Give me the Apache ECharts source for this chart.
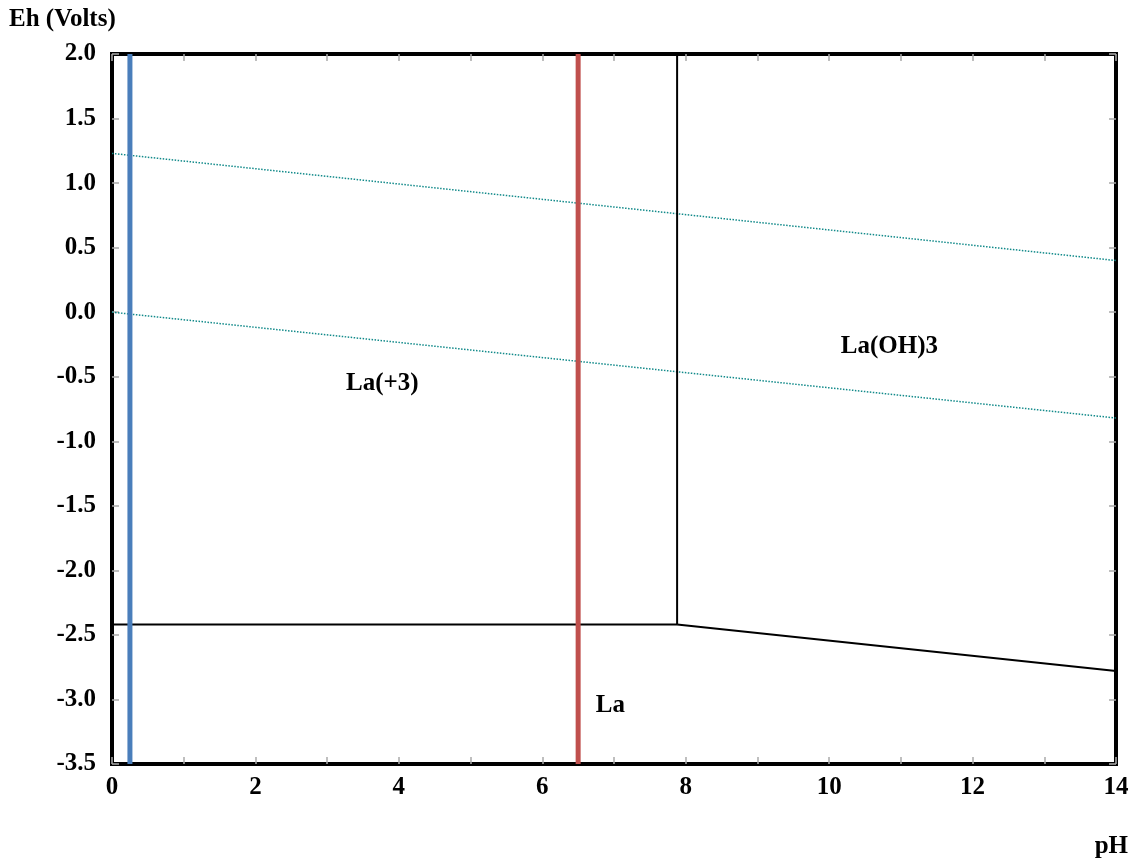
<!DOCTYPE html>
<html lang="en">
<head>
    <meta charset="UTF-8">
    <title>Eh-pH La</title>
    <script src="https://cdn.jsdelivr.net/npm/echarts@6/dist/echarts.min.js"></script>
    <style>
        html, body { margin: 0; padding: 0; background: #fff; }
        #chart { width: 1133px; height: 861px; }
    </style>
</head>
<body>
    <div id="chart"></div>
    <script>
        // 数据 (pH, Eh)
        const la3LaBoundary = [[0, -2.42], [7.88, -2.42]];
        const hydroxideLaBoundary = [[7.88, -2.42], [14, -2.78]];
        const la3HydroxideBoundary = [[7.88, -2.42], [7.88, 2.0]];
        const waterUpper = [[0, 1.23], [14, 0.40]];
        const waterLower = [[0, 0.0], [14, -0.82]];
        const bluePH = [[0.25, 2.0], [0.25, -3.5]];
        const redPH = [[6.5, 2.0], [6.5, -3.5]];
        const fieldLabels = [
            { name: 'La(+3)', value: [3.77, -0.55] },
            { name: 'La(OH)3', value: [10.84, -0.27] },
            { name: 'La', value: [6.95, -3.05] }
        ];

        const font = 'Liberation Serif';
        const fontSize = 25;

        function lineSeries(data, color, width, type) {
            return {
                type: 'line',
                data: data,
                symbol: 'none',
                silent: true,
                lineStyle: { color: color, width: width, type: type || 'solid' }
            };
        }

        const tickStyle = { show: true, inside: true, length: 7, lineStyle: { color: '#aaa', width: 1.5 } };
        const hiddenLine = { show: false, onZero: false };

        var mChart = echarts.init(document.getElementById('chart'));
        var option = {
            animation: false,
            grid: {
                left: 112, right: 17, top: 54, bottom: 97,
                show: true, borderColor: '#000', borderWidth: 4
            },
            xAxis: [{
                type: 'value', min: 0, max: 14, interval: 1,
                axisLine: hiddenLine,
                axisTick: tickStyle,
                splitLine: { show: false },
                axisLabel: {
                    margin: 11,
                    color: '#000', fontFamily: font, fontWeight: 'bold', fontSize: fontSize,
                    formatter: v => (v % 2 === 0 ? String(v) : '')
                }
            }, {
                type: 'value', min: 0, max: 14, interval: 1, position: 'top',
                axisLine: hiddenLine,
                axisTick: tickStyle,
                splitLine: { show: false },
                axisLabel: { show: false }
            }],
            yAxis: [{
                type: 'value', min: -3.5, max: 2.0, interval: 0.5,
                axisLine: hiddenLine,
                axisTick: tickStyle,
                splitLine: { show: false },
                axisLabel: {
                    margin: 16,
                    color: '#000', fontFamily: font, fontWeight: 'bold', fontSize: fontSize,
                    formatter: v => v.toFixed(1)
                }
            }, {
                type: 'value', min: -3.5, max: 2.0, interval: 0.5, position: 'right',
                axisLine: hiddenLine,
                axisTick: tickStyle,
                splitLine: { show: false },
                axisLabel: { show: false }
            }],
            series: [
                lineSeries(waterUpper, '#128a8a', 1.5, 'dotted'),
                lineSeries(waterLower, '#128a8a', 1.5, 'dotted'),
                lineSeries(la3LaBoundary, '#000', 2),
                lineSeries(hydroxideLaBoundary, '#000', 2),
                lineSeries(la3HydroxideBoundary, '#000', 2),
                lineSeries(bluePH, '#4a7ebb', 5),
                lineSeries(redPH, '#c0504d', 5),
                {
                    type: 'scatter',
                    data: fieldLabels,
                    symbolSize: 0,
                    silent: true,
                    itemStyle: { opacity: 1 },
                    label: {
                        show: true, position: 'inside',
                        formatter: p => p.name,
                        color: '#000', textBorderWidth: 0,
                        fontFamily: font, fontWeight: 'bold', fontSize: fontSize
                    }
                }
            ],
            graphic: [
                {
                    type: 'text', left: 9, top: 7,
                    style: { text: 'Eh (Volts)', fill: '#000', font: 'bold 25px "Liberation Serif"' }
                },
                {
                    type: 'text', right: 5, top: 834,
                    style: { text: 'pH', fill: '#000', font: 'bold 25px "Liberation Serif"' }
                }
            ]
        };
        mChart.setOption(option);
    </script>
</body>
</html>
